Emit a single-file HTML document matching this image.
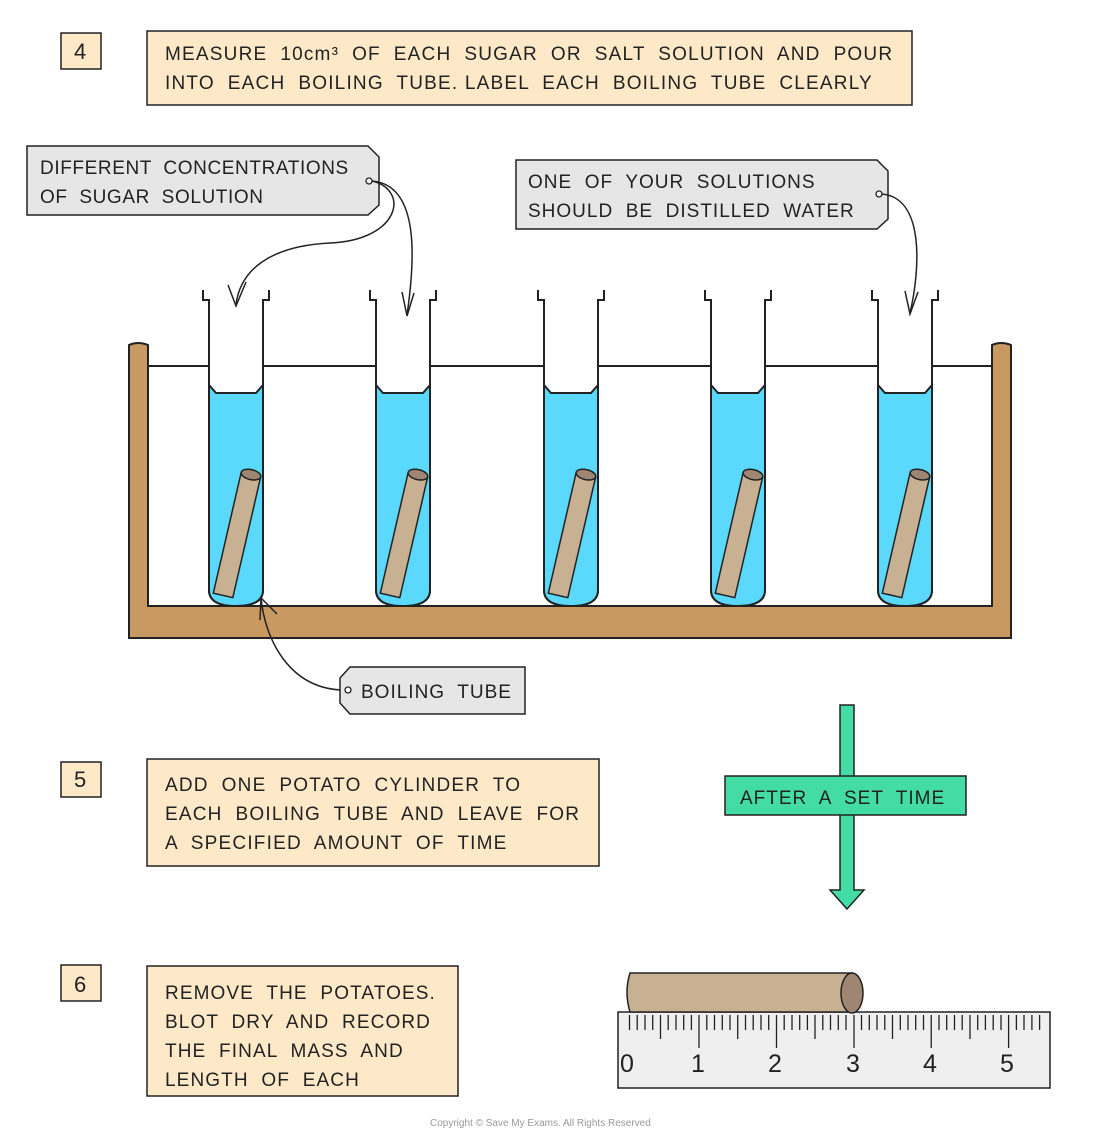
<!DOCTYPE html>
<html><head><meta charset="utf-8"><style>
html,body{margin:0;padding:0;background:#fff;width:1100px;height:1142px;overflow:hidden}
svg text{font-family:"Liberation Sans",sans-serif;font-size:19px;fill:#222;letter-spacing:1px;white-space:pre}
</style></head><body>
<svg width="1100" height="1142" viewBox="0 0 1100 1142" xmlns="http://www.w3.org/2000/svg" xml:space="preserve">
<defs>
<g id="tube">
<path d="M-33,290 L-33,300 L-27,300 L-27,590 Q-27,606 0,606 Q27,606 27,590 L27,300 L33,300 L33,290" fill="#fff" stroke="#222" stroke-width="2"/>
<path d="M-27,385 L-20,393 L20,393 L27,385 L27,590 Q27,606 0,606 Q-27,606 -27,590 Z" fill="#5ad9fc" stroke="#222" stroke-width="2"/>
<g transform="translate(1,535) rotate(13)">
<rect x="-10" y="-62" width="20" height="124" fill="#c8b093" stroke="#222" stroke-width="1.5"/>
<ellipse cx="0" cy="-62" rx="10" ry="5" fill="#9e8672" stroke="#222" stroke-width="1.5"/>
</g>
</g>
</defs>
<rect x="61" y="33" width="40" height="36" fill="#fde9c8" stroke="#222" stroke-width="1.5"/>
<text x="74" y="59" style="font-size:22px">4</text>
<rect x="147" y="31" width="765" height="74" fill="#fde9c8" stroke="#222" stroke-width="1.5"/>
<text x="165" y="60" style="letter-spacing:1.2px">MEASURE  10cm³  OF  EACH  SUGAR  OR  SALT  SOLUTION  AND  POUR</text>
<text x="165" y="89" style="letter-spacing:1.2px">INTO  EACH  BOILING  TUBE. LABEL  EACH  BOILING  TUBE  CLEARLY</text>
<path d="M27,146 L368,146 L379,157 L379,205 L368,215 L27,215 Z" fill="#e6e6e6" stroke="#222" stroke-width="1.5"/>
<circle cx="369" cy="181" r="3" fill="#fff" stroke="#222" stroke-width="1.3"/>
<text x="40" y="174" style="letter-spacing:0.6px">DIFFERENT  CONCENTRATIONS</text>
<text x="40" y="203" style="letter-spacing:0.6px">OF  SUGAR  SOLUTION</text>
<path d="M516,160 L877,160 L888,171 L888,219 L877,229 L516,229 Z" fill="#e6e6e6" stroke="#222" stroke-width="1.5"/>
<circle cx="879" cy="194" r="3" fill="#fff" stroke="#222" stroke-width="1.3"/>
<text x="528" y="188">ONE  OF  YOUR  SOLUTIONS</text>
<text x="528" y="217">SHOULD  BE  DISTILLED  WATER</text>
<path d="M129,345 Q138,341 148,345 L148,606 L992,606 L992,345 Q1001,341 1011,345 L1011,638 L129,638 Z" fill="#c99962" stroke="#222" stroke-width="2"/>
<line x1="148" y1="366" x2="992" y2="366" stroke="#222" stroke-width="2"/>
<use href="#tube" x="236"/>
<use href="#tube" x="403"/>
<use href="#tube" x="571"/>
<use href="#tube" x="738"/>
<use href="#tube" x="905"/>
<g fill="none" stroke="#222" stroke-width="1.5">
<path d="M372,181 C410,190 400,240 330,243 C270,246 240,270 236,305"/>
<path d="M228,285 L236,306 L246,282"/>
<path d="M372,181 C420,185 415,260 407,315"/>
<path d="M402,292 L407,316 L414,293"/>
<path d="M882,194 C925,198 920,270 910,313"/>
<path d="M905,291 L910,314 L918,292"/>
<path d="M345,690 C290,690 265,640 261,598"/>
<path d="M260,620 L261,598 L277,614"/>
</g>
<path d="M340,678 L350,667 L525,667 L525,714 L350,714 L340,703 Z" fill="#e6e6e6" stroke="#222" stroke-width="1.5"/>
<circle cx="348" cy="690" r="3" fill="#fff" stroke="#222" stroke-width="1.3"/>
<text x="361" y="698">BOILING  TUBE</text>
<rect x="61" y="762" width="40" height="35" fill="#fde9c8" stroke="#222" stroke-width="1.5"/>
<text x="74" y="787" style="font-size:22px">5</text>
<rect x="147" y="759" width="452" height="107" fill="#fde9c8" stroke="#222" stroke-width="1.5"/>
<text x="165" y="791" style="letter-spacing:1.2px">ADD  ONE  POTATO  CYLINDER  TO</text>
<text x="165" y="820" style="letter-spacing:1.2px">EACH  BOILING  TUBE  AND  LEAVE  FOR</text>
<text x="165" y="849" style="letter-spacing:1.2px">A  SPECIFIED  AMOUNT  OF  TIME</text>
<path d="M840,705 L854,705 L854,890 L864,890 L847,909 L830,890 L840,890 Z" fill="#44dca5" stroke="#222" stroke-width="1.5"/>
<rect x="725" y="776" width="241" height="39" fill="#44dca5" stroke="#222" stroke-width="1.5"/>
<text x="740" y="804">AFTER  A  SET  TIME</text>
<rect x="61" y="965" width="40" height="36" fill="#fde9c8" stroke="#222" stroke-width="1.5"/>
<text x="74" y="992" style="font-size:22px">6</text>
<rect x="147" y="966" width="311" height="130" fill="#fde9c8" stroke="#222" stroke-width="1.5"/>
<text x="165" y="999" style="letter-spacing:1.1px">REMOVE  THE  POTATOES.</text>
<text x="165" y="1028" style="letter-spacing:1.1px">BLOT  DRY  AND  RECORD</text>
<text x="165" y="1057" style="letter-spacing:1.1px">THE  FINAL  MASS  AND</text>
<text x="165" y="1086" style="letter-spacing:1.1px">LENGTH  OF  EACH</text>
<rect x="618" y="1012" width="432" height="76" fill="#efefef" stroke="#222" stroke-width="1.5"/>
<g stroke="#222" stroke-width="1.3">
<path d="M629.5,1015v15 M637.2,1015v15 M645,1015v15 M652.7,1015v15 M660.5,1015v24 M668.2,1015v15 M676,1015v15 M683.7,1015v15 M691.4,1015v15 M699,1015v33 M706.8,1015v15 M714.5,1015v15 M722.3,1015v15 M730,1015v15 M737.7,1015v24 M745.5,1015v15 M753.2,1015v15 M761,1015v15 M768.7,1015v15 M776.5,1015v33 M784.2,1015v15 M792,1015v15 M799.7,1015v15 M807.4,1015v15 M815,1015v24 M822.8,1015v15 M830.5,1015v15 M838.3,1015v15 M846,1015v15 M854,1015v33 M861.5,1015v15 M869.3,1015v15 M877,1015v15 M884.8,1015v15 M892.5,1015v24 M900.3,1015v15 M908,1015v15 M915.7,1015v15 M923.5,1015v15 M931.2,1015v33 M939,1015v15 M946.7,1015v15 M954.5,1015v15 M962.2,1015v15 M970,1015v24 M977.7,1015v15 M985.4,1015v15 M993.2,1015v15 M1001,1015v15 M1008.6,1015v33 M1016.4,1015v15 M1024,1015v15 M1031.9,1015v15 M1039.6,1015v15"/>
</g>
<g style="font-size:25px">
<text x="620" y="1072" style="font-size:25px">0</text><text x="691" y="1072" style="font-size:25px">1</text><text x="768" y="1072" style="font-size:25px">2</text>
<text x="846" y="1072" style="font-size:25px">3</text><text x="923" y="1072" style="font-size:25px">4</text><text x="1000" y="1072" style="font-size:25px">5</text>
</g>
<path d="M630,973 L852,973 L852,1012 L630,1012 Q624,992 630,973 Z" fill="#c8b093" stroke="#222" stroke-width="1.5"/>
<ellipse cx="852" cy="993" rx="11" ry="20" fill="#9e8672" stroke="#222" stroke-width="1.5"/>
<text x="430" y="1126" style="font-size:10px;fill:#999;letter-spacing:0">Copyright © Save My Exams. All Rights Reserved</text>
</svg>
</body></html>
